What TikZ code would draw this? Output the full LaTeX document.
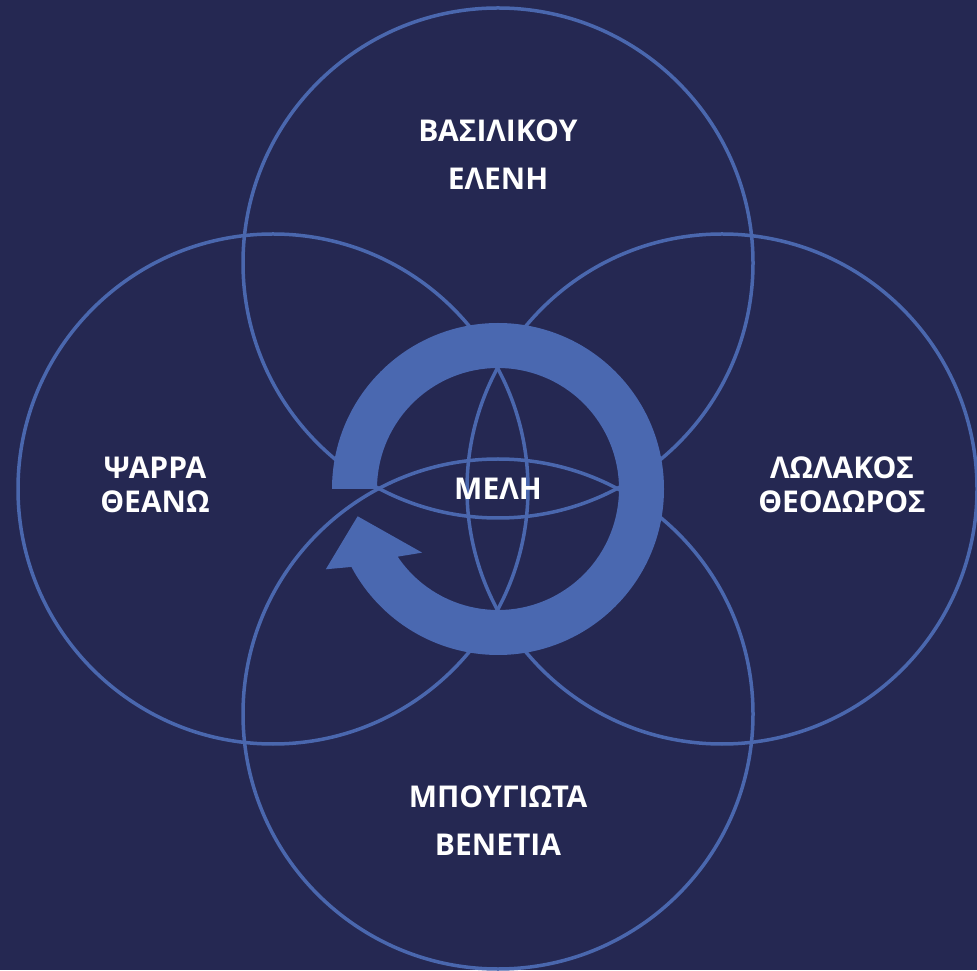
\documentclass[tikz,border=0pt]{standalone}
\usepackage{fontspec}
\setmainfont{Open Sans}
\usepackage{tikz}
\usetikzlibrary{positioning,calc}
\usepackage{xcolor}
\definecolor{navy}{HTML}{252852}
\definecolor{ringblue}{HTML}{4A67AE}
\definecolor{arrowblue}{HTML}{4A68B0}

\begin{document}
\begin{tikzpicture}[
    x=1pt,y=1pt,
    ring/.style={draw=ringblue,line width=3.5pt,circle,minimum size=510pt,inner sep=0pt},
    person/.style={text=white,font=\fontsize{30}{48}\selectfont\bfseries,align=center},
    sideperson/.style={person,font=\fontsize{30}{34}\selectfont\bfseries}
]
\fill[navy] (0,0) rectangle (977,970);
\useasboundingbox (0,0) rectangle (977,970);

% four overlapping circles
\coordinate (mid) at (498,481);
\node[ring] (upper) at (498,707) {};
\node[ring] (west) at (273,481) {};
\node[ring] (east) at (722,481) {};
\node[ring] (lower) at (498,256) {};

% circular arrow
\fill[arrowblue,shift={(mid)}] (180:166) arc[start angle=180,end angle=-152,radius=166]
    -- (205:190) -- (191:143) -- (220:99) -- (-146:121)
    arc[start angle=-146,end angle=180,radius=121] -- cycle;

\node[person] (members) at (mid) {ΜΕΛΗ};
\node[person] (nupper) at (498,815) {ΒΑΣΙΛΙΚΟΥ\\ΕΛΕΝΗ};
\node[sideperson] (nwest) at (155,485) {ΨΑΡΡΑ\\ΘΕΑΝΩ};
\node[sideperson] (neast) at (842,485) {ΛΩΛΑΚΟΣ\\ΘΕΟΔΩΡΟΣ};
\node[person] (nlower) at (498,149) {ΜΠΟΥΓΙΩΤΑ\\ΒΕΝΕΤΙΑ};
\end{tikzpicture}
\end{document}
